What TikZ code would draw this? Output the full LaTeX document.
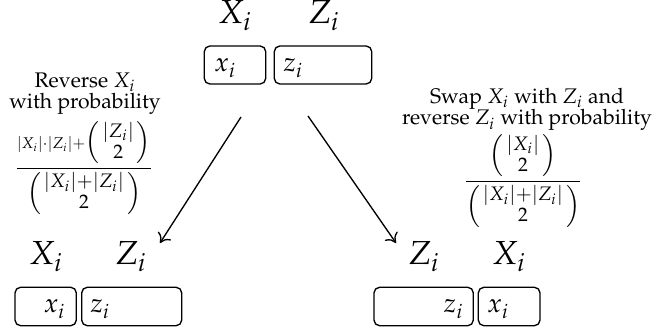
\documentclass[tikz,border=0pt]{standalone}
\usepackage{amsmath}
\usepackage[T1]{fontenc}
\usepackage{mathpazo}
\usetikzlibrary{arrows.meta}
\newcommand{\bsz}[1]{\text{\fontsize{8.8}{9}\selectfont$#1$}}
\newcommand{\bnm}[2]{\Bigl(\genfrac{}{}{0pt}{1}{\bsz{#1}}{\bsz{#2}}\Bigr)}
\begin{document}
\begin{tikzpicture}[x=0.45pt,y=-0.45pt,
  cell/.style={draw,line width=0.6pt,rounded corners=2.5pt},
  lab/.style={font=\fontsize{15}{17}\selectfont,inner sep=0pt,anchor=base},
  cont/.style={font=\large,inner sep=0pt,anchor=base west},
  contr/.style={font=\large,inner sep=0pt,anchor=base east},
  txt/.style={align=center,inner sep=0pt,font=\fontsize{9.5}{9.8}\selectfont},
  frc/.style={inner sep=0pt,anchor=base,font=\fontsize{10.5}{13}\selectfont},
  arr/.style={-{To[length=4pt,width=7pt]},line width=0.6pt}]
\useasboundingbox (0,0) rectangle (652,336);
% top
\node[lab] (tX) at (235,24) {$X_i$};
\node[lab] (tZ) at (324,24) {$Z_i$};
\draw[cell] (204.3,46) rectangle (265.7,84);
\draw[cell] (274.3,46) rectangle (371.7,84);
\node[cont] (tx) at (214,72) {$x_i$};
\node[cont] (tz) at (283,72) {$z_i$};
\coordinate (aL1) at (241,117);
\coordinate (aL2) at (160,243);
\coordinate (aR1) at (308,116);
\coordinate (aR2) at (396,243);
\draw[arr] (aL1) -- (aL2);
\draw[arr] (aR1) -- (aR2);
% left text
\node[txt,anchor=base] (lt) at (85,109) {Reverse $X_i$\\with probability};
\node[frc] (lf) at (84,174) {$\displaystyle\frac{\text{\fontsize{7}{8}\selectfont$|X_i|{\cdot}|Z_i|{+}$}\bnm{|Z_i|}{2}}{\bnm{|X_i|{+}|Z_i|}{2}}$};
% right text
\node[txt,anchor=base] (rt) at (527,125) {Swap $X_i$ with $Z_i$ and\\reverse $Z_i$ with probability};
\node[frc] (rf) at (523,187) {$\displaystyle\frac{\bnm{|X_i|}{2}}{\bnm{|X_i|{+}|Z_i|}{2}}$};
% bottom left
\node[lab] (lX) at (46,265) {$X_i$};
\node[lab] (lZ) at (131,265) {$Z_i$};
\draw[cell] (15,287.3) rectangle (76.3,325.7);
\draw[cell] (81.7,287.3) rectangle (181.7,325.7);
\node[contr] (lx) at (66,313) {$x_i$};
\node[cont] (lz) at (90,313) {$z_i$};
% bottom right
\node[lab] (rZ) at (424,265) {$Z_i$};
\node[lab] (rX) at (509,265) {$X_i$};
\draw[cell] (374,287.3) rectangle (473.3,325.7);
\draw[cell] (478.3,287.3) rectangle (540,325.7);
\node[contr] (rz) at (464,313) {$z_i$};
\node[cont] (rx) at (487,313) {$x_i$};
\end{tikzpicture}
\end{document}
